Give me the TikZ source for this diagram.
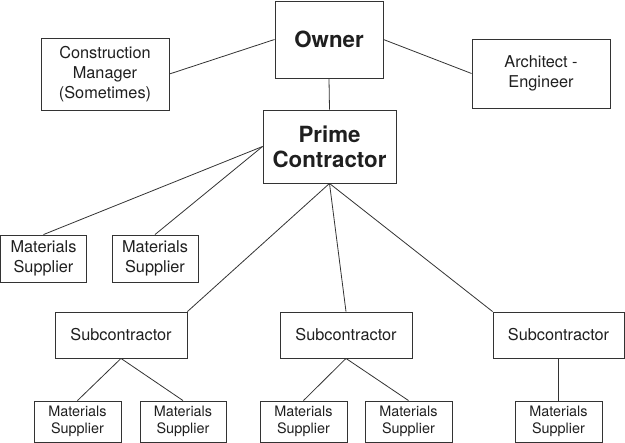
\documentclass[tikz,border=0pt]{standalone}
\usepackage{fontspec}
\setmainfont{TeX Gyre Heros}
\begin{document}
\begin{tikzpicture}[x=1pt,y=-1pt,
  box/.style={draw=black!80, line width=0.9pt, inner sep=0pt, align=center, text=black!88},
  reg/.style={box, font=\fontsize{16.3}{20}\selectfont},
  small/.style={box, font=\fontsize{14.4}{17}\selectfont},
  big/.style={box, font=\fontsize{22.3}{25}\selectfont\bfseries},
  link/.style={draw=black!80, line width=0.8pt}]
\useasboundingbox (0,0) rectangle (625,443);
% top level
\node[big, minimum width=108pt, minimum height=77pt] (owner) at (329,39.5) {Owner};
\node[reg, minimum width=128pt, minimum height=72pt] (cm) at (105,74) {Construction\\Manager\\(Sometimes)};
\node[reg, minimum width=138pt, minimum height=69pt] (arch) at (541,73.5) {Architect -\\Engineer};
\node[big, minimum width=133pt, minimum height=73pt] (prime) at (329.5,146.5) {Prime\\Contractor};
% suppliers of prime
\node[reg, minimum width=86pt, minimum height=47pt] (ms1) at (43.5,258.5) {Materials\\Supplier};
\node[reg, minimum width=86pt, minimum height=47pt] (ms2) at (155,258.5) {Materials\\Supplier};
% subcontractors
\node[reg, minimum width=132pt, minimum height=46pt] (sub1) at (121,335) {Subcontractor};
\node[reg, minimum width=132pt, minimum height=46pt] (sub2) at (346,335) {Subcontractor};
\node[reg, minimum width=131pt, minimum height=46pt] (sub3) at (558.5,335) {Subcontractor};
% bottom suppliers
\node[small, minimum width=87pt, minimum height=41pt] (ms3) at (77.5,421.5) {Materials\\Supplier};
\node[small, minimum width=86pt, minimum height=41pt] (ms4) at (183,421.5) {Materials\\Supplier};
\node[small, minimum width=87pt, minimum height=41pt] (ms5) at (303.5,421.5) {Materials\\Supplier};
\node[small, minimum width=87pt, minimum height=41pt] (ms6) at (408.5,421.5) {Materials\\Supplier};
\node[small, minimum width=87pt, minimum height=41pt] (ms7) at (558.5,421.5) {Materials\\Supplier};
% connectors
\draw[link] (cm.east) -- (owner.west);
\draw[link] (owner.east) -- (arch.west);
\draw[link] (owner.south) -- (prime.north);
\draw[link] (prime.west) -- (ms1.north);
\draw[link] (prime.west) -- (ms2.north);
\draw[link] (prime.south) -- (sub1.north east);
\draw[link] (prime.south) -- (sub2.north);
\draw[link] (prime.south) -- (sub3.north west);
\draw[link] (sub1.south) -- (ms3.north);
\draw[link] (sub1.south) -- (ms4.north);
\draw[link] (sub2.south) -- (ms5.north);
\draw[link] (sub2.south) -- (ms6.north);
\draw[link] (sub3.south) -- (ms7.north);
\end{tikzpicture}
\end{document}
